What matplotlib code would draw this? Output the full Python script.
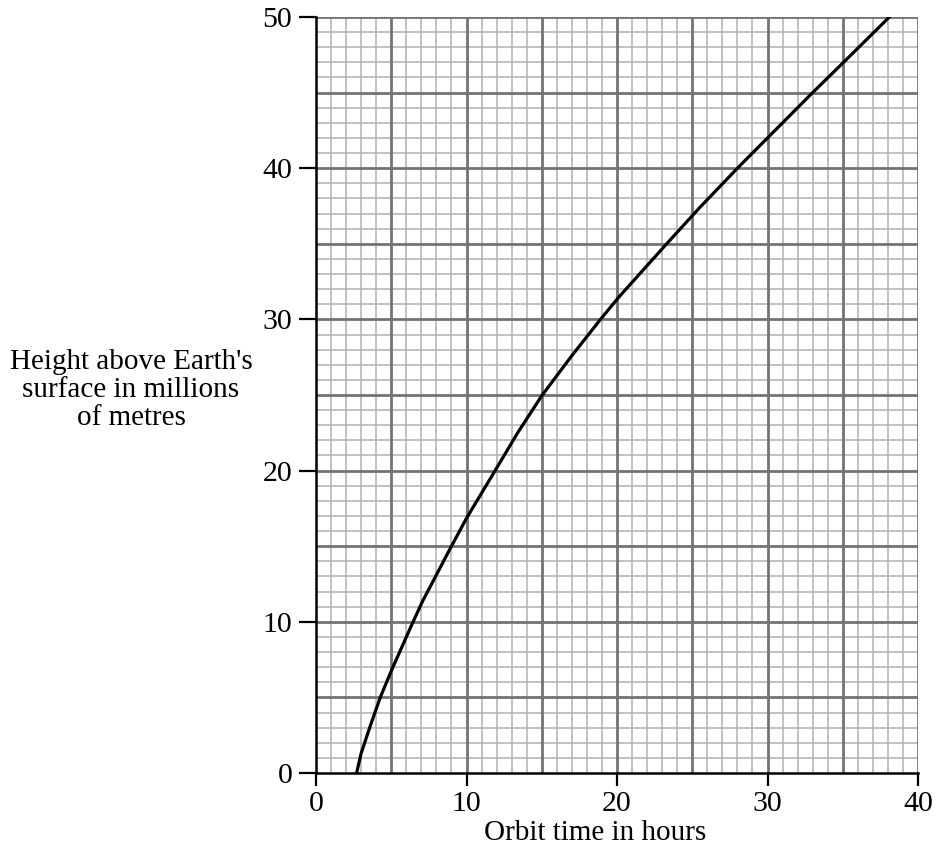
import numpy as np
import matplotlib
matplotlib.use("Agg")
import matplotlib.pyplot as plt
import matplotlib.transforms as mtransforms

plt.rcParams['font.family'] = ['Liberation Serif', 'DejaVu Serif']

# values (orbit time in hours, height in millions of metres)
orbit_time = [2.7, 3.0, 3.6, 4.27, 5.0, 6.45, 7.1, 9.0, 10.0, 11.9, 13.4, 15.0,
              17.0, 18.9, 20.1, 23.3, 25.5, 28.1, 30.2, 33.0, 35.0, 38.1]
height = [0.0, 1.3, 3.1, 5.0, 6.75, 10.0, 11.4, 15.0, 16.85, 20.0, 22.5, 24.95,
          27.6, 30.0, 31.45, 35.0, 37.4, 40.1, 42.2, 45.0, 46.95, 50.0]

x_ticks = [0, 10, 20, 30, 40]
y_ticks = [0, 10, 20, 30, 40, 50]

fig = plt.figure(figsize=(9.38, 8.52), dpi=100)
ax = fig.add_axes([316/938, 1 - 773/852, (918 - 316)/938, (773 - 17)/852])

ax.set_xlim(0, 40)
ax.set_ylim(0, 50)

# graph paper grid: thin lines every unit, heavier every 5
for v in np.arange(1, 41):
    if v % 5 == 0:
        ax.axvline(v, color='#737373', lw=2.0, zorder=1)
    else:
        ax.axvline(v, color='#b0b0b0', lw=1.1, zorder=0.5)
for v in np.arange(1, 51):
    if v % 5 == 0:
        ax.axhline(v, color='#737373', lw=2.0, zorder=1)
    else:
        ax.axhline(v, color='#b0b0b0', lw=1.1, zorder=0.5)

ax.plot(orbit_time, height, color='black', lw=2.3, zorder=3,
        solid_joinstyle='round')

ax.set_xticks(x_ticks)
ax.set_yticks(y_ticks)
ax.tick_params(axis='both', direction='out', length=9, width=1.6,
               labelsize=21.5, pad=4)
ax.tick_params(axis='y', length=12, pad=5)

for side in ['top', 'right']:
    ax.spines[side].set_visible(False)
for side in ['left', 'bottom']:
    ax.spines[side].set_linewidth(1.8)
    ax.spines[side].set_zorder(4)

label_trans = mtransforms.blended_transform_factory(fig.transFigure, ax.transData)
ax.text(131/938, 25.3, "Height above Earth's\nsurface in millions\nof metres",
        transform=label_trans, ha='center', va='center',
        multialignment='center', fontsize=21, linespacing=1.1)
fig.text(595/938, 1 - 833/852, "Orbit time in hours", ha='center', va='center',
         fontsize=21)

fig.savefig("out.png", dpi=100)
